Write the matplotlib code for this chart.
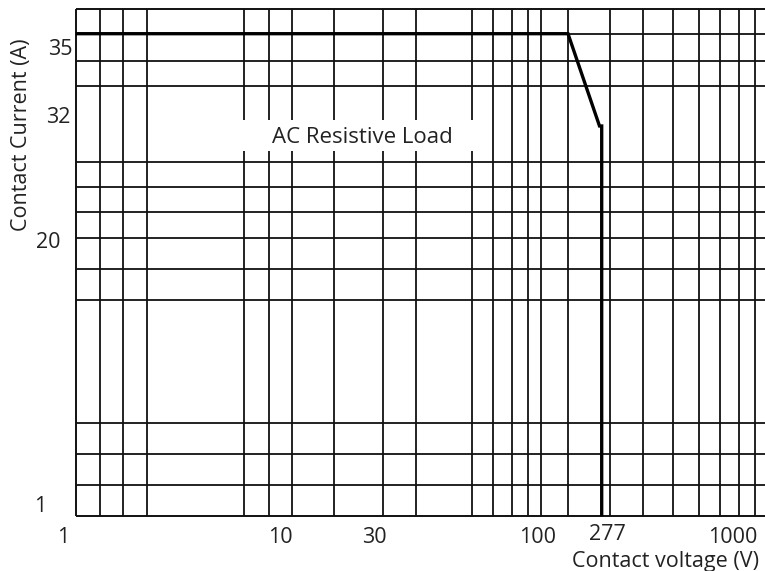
import matplotlib
matplotlib.use('Agg')
import matplotlib.pyplot as plt
from matplotlib.patches import Rectangle

plt.rcParams['font.family'] = ['Open Sans', 'DejaVu Sans']

# --- chart data (positions on the hand drawn grid, in pixels of a 765x571 sheet) ---
box_left, box_top, box_bottom, box_right = 75.7, 9.0, 516.3, 766.0

# vertical grid lines of the voltage axis
v_lines = [99.7, 123.3, 147.3, 244.3, 268.7, 292.3, 334.0, 383.3, 416.3,
           471.7, 493.3, 511.7, 528.0, 541.3, 568.0, 610.0, 643.3, 672.7,
           698.7, 720.3, 739.0, 755.0]
# horizontal grid lines of the current axis
h_lines = [33.7, 60.7, 86.0, 161.7, 187.3, 212.0, 238.0, 268.7, 300.3,
           422.7, 453.7, 485.0]

# load limit curve: 35 A flat, falls to 32 A, then drops at 277 V
curve_x = [75.7, 568.0, 599.5, 601.7, 601.7]
curve_y = [33.7, 33.7, 126.0, 126.0, 516.3]

# tick labels
volt_labels = ['1', '10', '30', '100', '277', '1000']
volt_label_x = [63.0, 280.0, 374.0, 537.5, 607.5, 733.0]
volt_label_base = [543.0, 543.0, 543.0, 543.0, 540.0, 543.0]

amp_labels = ['35', '32', '20', '1']
amp_label_right = [73.0, 70.7, 61.0, 46.7]
amp_label_base = [55.0, 122.7, 248.0, 512.0]

grid_c = '#111111'
text_c = '#222222'

fig = plt.figure(figsize=(7.65, 5.71), dpi=100)
ax = fig.add_axes([0, 0, 1, 1])
ax.set_xlim(0, 765)
ax.set_ylim(571, 0)
ax.axis('off')

# grid and frame
ax.vlines(v_lines, box_top, box_bottom, color=grid_c, lw=1.3, zorder=1)
ax.hlines(h_lines, box_left, box_right, color=grid_c, lw=1.3, zorder=1)
ax.vlines([box_left], box_top, box_bottom, color=grid_c, lw=1.4, zorder=2)
ax.hlines([box_top, box_bottom], box_left, box_right, color=grid_c, lw=1.4, zorder=2)

# label box that hides the grid
ax.add_patch(Rectangle((232, 120), 246, 31, fc='white', ec='none', zorder=3))
ax.text(362, 143.3, 'AC Resistive Load', ha='center', va='baseline',
        fontsize=16, color=text_c, zorder=4)

# curve
ax.plot(curve_x, curve_y, color='black', lw=2.4, zorder=5,
        solid_joinstyle='miter', solid_capstyle='butt')

# tick labels
for lab, x, yb in zip(volt_labels, volt_label_x, volt_label_base):
    ax.text(x, yb, lab, ha='center', va='baseline', fontsize=15.5, color=text_c)
for lab, xr, yb in zip(amp_labels, amp_label_right, amp_label_base):
    ax.text(xr, yb, lab, ha='right', va='baseline', fontsize=15.5, color=text_c)

# axis titles
ax.text(666, 566.5, 'Contact voltage (V)', ha='center', va='baseline',
        fontsize=15.5, color=text_c)
ax.text(22, 135, 'Contact Current (A)', ha='center', va='center',
        rotation=90, fontsize=15.5, color=text_c)

plt.savefig('out.png', dpi=100)
